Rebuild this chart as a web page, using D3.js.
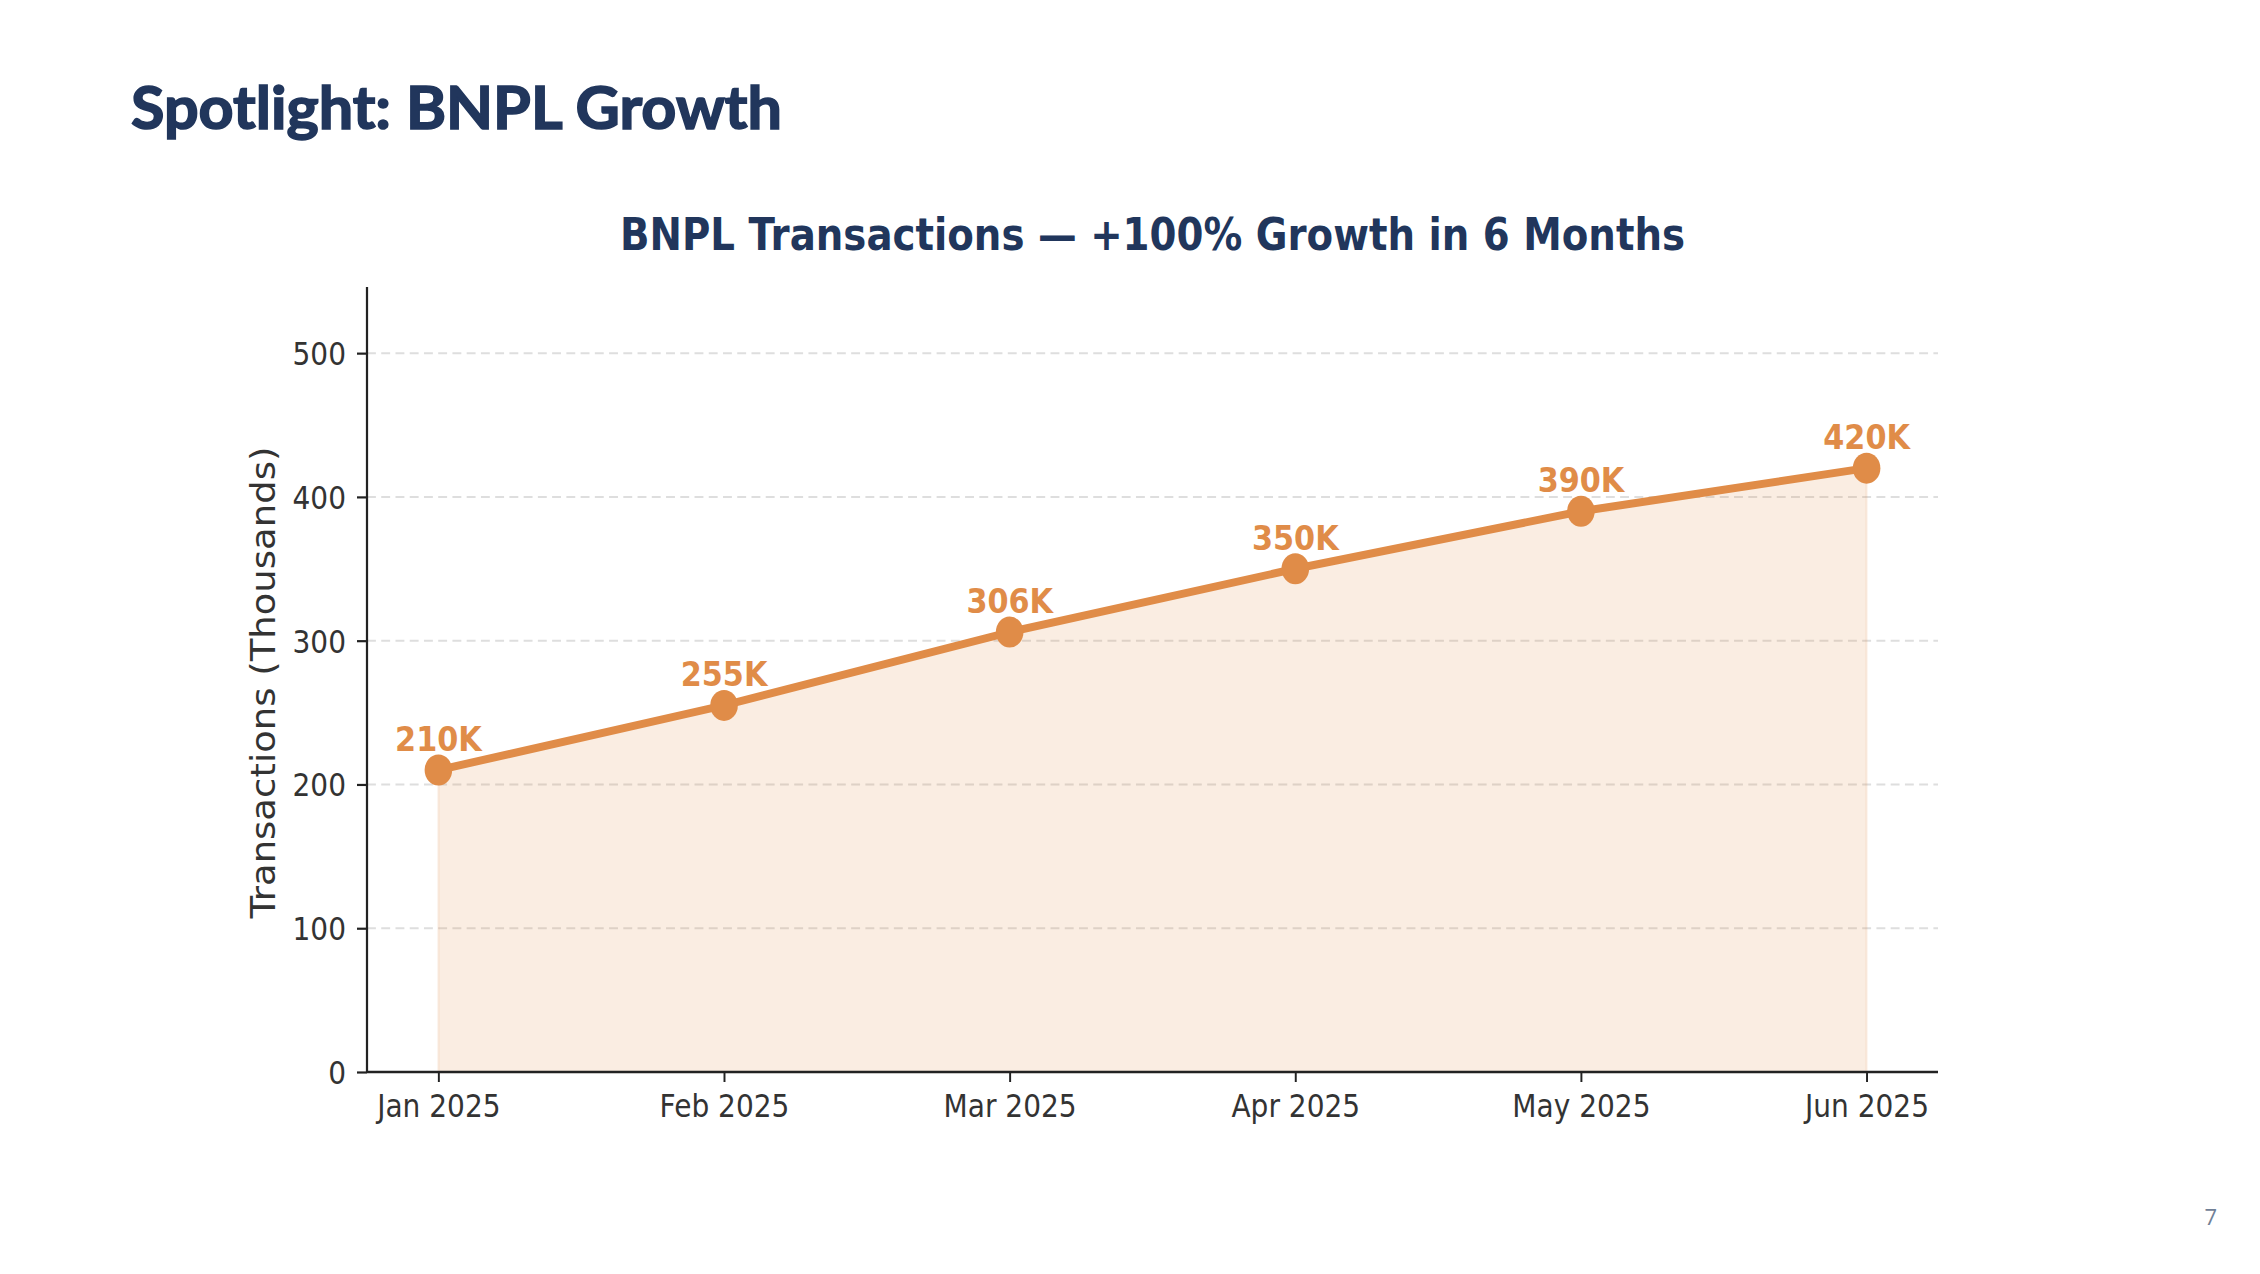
<!DOCTYPE html>
<html>
<head>
<meta charset="utf-8">
<script src="https://cdn.jsdelivr.net/npm/d3@7"></script>
<style>
  html, body { margin: 0; padding: 0; background: #fff; }
  svg { display: block; }
</style>
</head>
<body>
<script>
// chart data
var months = ["Jan 2025", "Feb 2025", "Mar 2025", "Apr 2025", "May 2025", "Jun 2025"];
var transactions = [210, 255, 306, 350, 390, 420];
var yTicks = [0, 100, 200, 300, 400, 500];
var yMax = 546;

var W = 2260, H = 1274;
var orange = "#E08C48";
var navy = "#21365C";
// the chart picture is squeezed a little horizontally
var sx = 0.89;

var svg = d3.select("body").append("svg")
  .attr("width", W)
  .attr("height", H);

svg.append("rect").attr("width", W).attr("height", H).attr("fill", "#fff");

// slide title
svg.append("text")
  .attr("x", 131)
  .attr("y", 129)
  .attr("textLength", 651)
  .attr("lengthAdjust", "spacingAndGlyphs")
  .style("font-family", "Lato, 'Open Sans', sans-serif")
  .style("font-weight", 700)
  .style("font-size", "60px")
  .attr("fill", navy)
  .attr("stroke", navy)
  .attr("stroke-width", 1.6)
  .text("Spotlight: BNPL Growth");

// page number
svg.append("text")
  .attr("x", 2217)
  .attr("y", 1225)
  .attr("text-anchor", "end")
  .style("font-family", "'Open Sans', sans-serif")
  .style("font-size", "22px")
  .attr("fill", "#718096")
  .text("7");

var g = svg.append("g").attr("transform", "scale(" + sx + ",1)");

var plotL = 367 / sx, plotR = 1938 / sx;
var plotT = 287, plotB = 1072;

var x = d3.scalePoint().domain(months).range([plotL, plotR]).padding(0.25);
var y = d3.scaleLinear().domain([0, yMax]).range([plotB, plotT]);

// chart title
g.append("text")
  .attr("x", (plotL + plotR) / 2)
  .attr("y", 250)
  .attr("text-anchor", "middle")
  .attr("textLength", 1065 / sx)
  .attr("lengthAdjust", "spacingAndGlyphs")
  .style("font-family", "'DejaVu Sans', sans-serif")
  .style("font-weight", 700)
  .style("font-size", "45px")
  .attr("fill", navy)
  .text("BNPL Transactions \u2014 +100% Growth in 6 Months");

// grid
g.append("g").selectAll("line")
  .data(yTicks.filter(function(d) { return d > 0; }))
  .enter().append("line")
  .attr("x1", plotL).attr("x2", plotR)
  .attr("y1", function(d) { return y(d); })
  .attr("y2", function(d) { return y(d); })
  .attr("stroke", "#dedede")
  .attr("stroke-width", 2)
  .attr("stroke-dasharray", "10,6");

var pts = months.map(function(m, i) { return { m: m, v: transactions[i] }; });

var area = d3.area()
  .x(function(d) { return x(d.m); })
  .y0(y(0))
  .y1(function(d) { return y(d.v); });

g.append("path")
  .datum(pts)
  .attr("d", area)
  .attr("fill", orange)
  .attr("fill-opacity", 0.16)
  .attr("stroke", orange)
  .attr("stroke-opacity", 0.12)
  .attr("stroke-width", 2.5);

var line = d3.line()
  .x(function(d) { return x(d.m); })
  .y(function(d) { return y(d.v); });

g.append("path")
  .datum(pts)
  .attr("d", line)
  .attr("fill", "none")
  .attr("stroke", orange)
  .attr("stroke-width", 8)
  .attr("stroke-linejoin", "round");

g.append("g").selectAll("circle")
  .data(pts)
  .enter().append("circle")
  .attr("cx", function(d) { return x(d.m); })
  .attr("cy", function(d) { return y(d.v); })
  .attr("r", 15.5)
  .attr("fill", orange);

g.append("g").selectAll("text")
  .data(pts)
  .enter().append("text")
  .attr("x", function(d) { return x(d.m); })
  .attr("y", function(d) { return y(d.v) - 19; })
  .attr("text-anchor", "middle")
  .style("font-family", "'DejaVu Sans', sans-serif")
  .style("font-weight", 700)
  .style("font-size", "34px")
  .attr("fill", orange)
  .text(function(d) { return d.v + "K"; });

// axes
var xAxis = g.append("g")
  .attr("transform", "translate(0," + plotB + ")")
  .call(d3.axisBottom(x).tickSize(10).tickSizeOuter(0));

var yAxis = g.append("g")
  .attr("transform", "translate(" + plotL + ",0)")
  .call(d3.axisLeft(y).tickValues(yTicks).tickSize(10 / sx).tickSizeOuter(0));

yAxis.select(".domain").attr("d", "M0," + plotT + "V" + plotB);
xAxis.select(".domain").attr("d", "M" + plotL + ",0H" + plotR);

[xAxis, yAxis].forEach(function(a) {
  a.select(".domain").attr("stroke", "#222").attr("stroke-width", 2.5);
  a.selectAll(".tick line").attr("stroke", "#222").attr("stroke-width", 2.2);
  a.selectAll(".tick text")
    .style("font-family", "'DejaVu Sans', sans-serif")
    .style("font-size", "31.5px")
    .attr("fill", "#333");
});

xAxis.selectAll(".tick text").attr("y", 45.5).attr("dy", 0);
yAxis.selectAll(".tick text").attr("x", -(10 + 11) / sx).attr("dy", "0.36em");

// y axis title
g.append("text")
  .attr("transform", "translate(" + (275 / sx) + "," + ((plotT + plotB) / 2 + 3) + ") rotate(-90)")
  .attr("text-anchor", "middle")
  .style("font-family", "'DejaVu Sans', sans-serif")
  .style("font-size", "37px")
  .attr("fill", "#333")
  .text("Transactions (Thousands)");
</script>
</body>
</html>
